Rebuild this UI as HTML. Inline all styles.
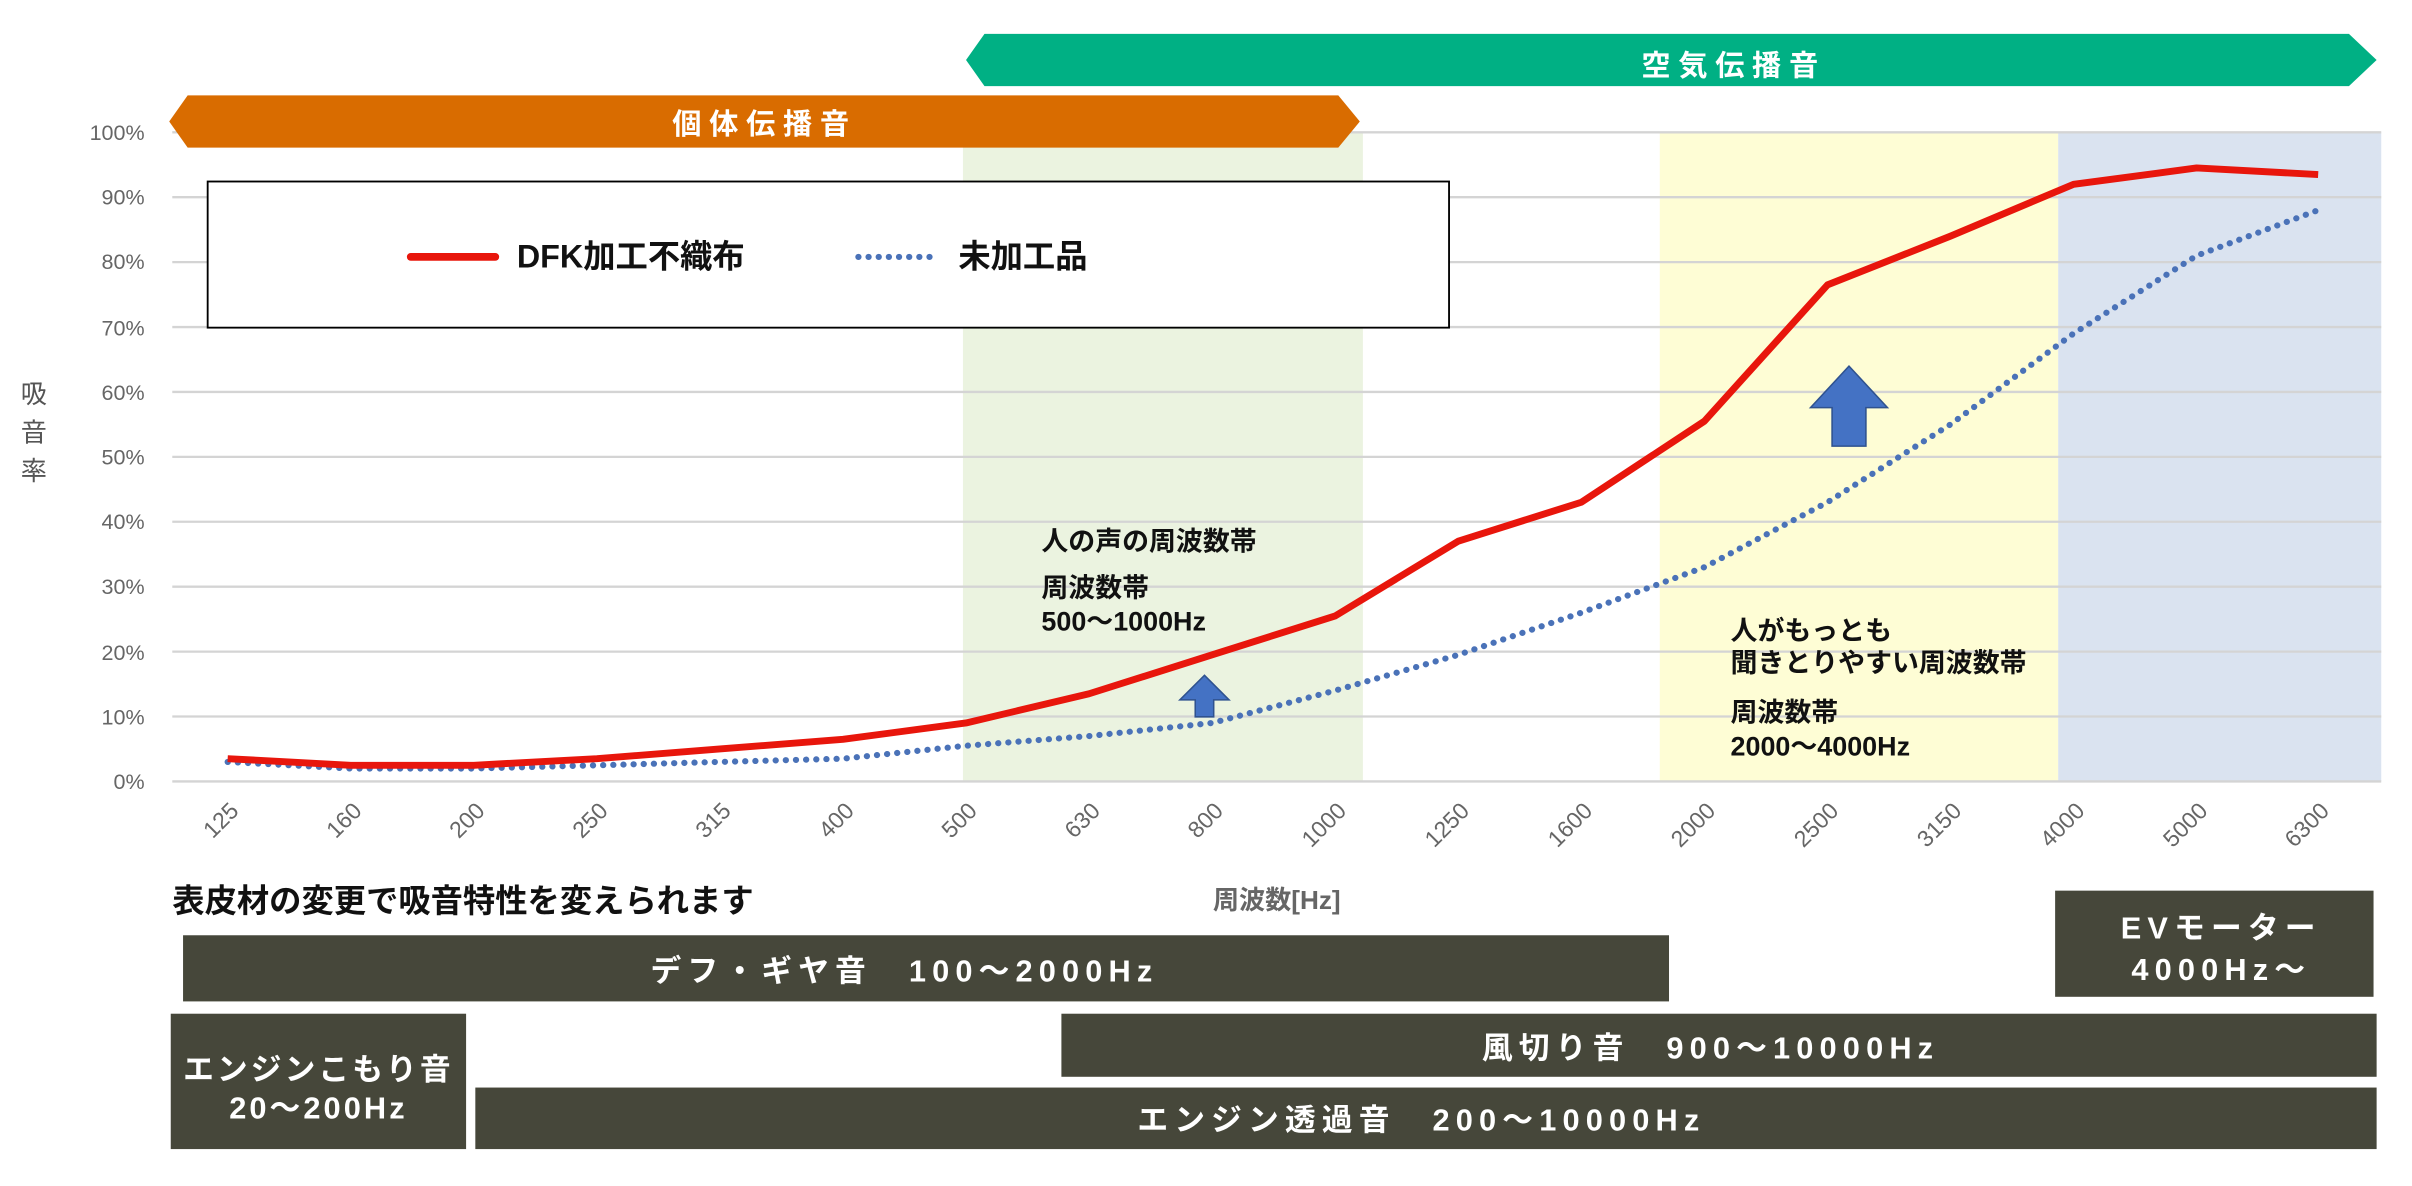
<!DOCTYPE html>
<html><head><meta charset="utf-8"><style>
html,body{margin:0;padding:0;background:#fff;}
svg{display:block;}
text{font-family:"Liberation Sans","Noto Sans CJK JP",sans-serif;}
</style></head><body>
<svg width="2412" height="1186" viewBox="0 0 1568 771" preserveAspectRatio="none" xmlns="http://www.w3.org/2000/svg">
<rect x="626" y="86" width="260" height="422" fill="#ebf3e0"/>
<rect x="1079" y="86" width="259" height="422" fill="#fefdd5"/>
<rect x="1338" y="86" width="210" height="422" fill="#dae3f0"/>
<g stroke="#d4d4d4" stroke-width="1.5">
<line x1="112" x2="1548" y1="86" y2="86"/><line x1="112" x2="1548" y1="128.2" y2="128.2"/>
<line x1="112" x2="1548" y1="170.4" y2="170.4"/><line x1="112" x2="1548" y1="212.6" y2="212.6"/>
<line x1="112" x2="1548" y1="254.8" y2="254.8"/><line x1="112" x2="1548" y1="297" y2="297"/>
<line x1="112" x2="1548" y1="339.2" y2="339.2"/><line x1="112" x2="1548" y1="381.4" y2="381.4"/>
<line x1="112" x2="1548" y1="423.6" y2="423.6"/><line x1="112" x2="1548" y1="465.8" y2="465.8"/>
<line x1="112" x2="1548" y1="508" y2="508"/>
</g>
<g font-size="14" fill="#666" text-anchor="end">
<text x="94" y="91">100%</text><text x="94" y="133">90%</text><text x="94" y="175">80%</text>
<text x="94" y="218">70%</text><text x="94" y="260">60%</text><text x="94" y="302">50%</text>
<text x="94" y="344">40%</text><text x="94" y="386">30%</text><text x="94" y="429">20%</text>
<text x="94" y="471">10%</text><text x="94" y="513">0%</text>
</g>
<g font-size="17" fill="#555" text-anchor="middle"><text x="22" y="262">吸</text><text x="22" y="287">音</text><text x="22" y="312">率</text></g>
<polygon points="640,22 1527,22 1545,39 1527,56 640,56 628,39" fill="#00b084"/>
<text x="1127" y="49" font-size="19" font-weight="bold" fill="#fff" text-anchor="middle" letter-spacing="5">空気伝播音</text>
<polygon points="122,62 870,62 884,79 870,96 122,96 110,79" fill="#d96c00"/>
<text x="497" y="87" font-size="19" font-weight="bold" fill="#fff" text-anchor="middle" letter-spacing="5">個体伝播音</text>
<rect x="135" y="118" width="807" height="95" fill="#fff" stroke="#000" stroke-width="1.2"/>
<line x1="267" y1="167" x2="322" y2="167" stroke="#e8160c" stroke-width="5" stroke-linecap="round"/>
<text x="336" y="174" font-size="21" font-weight="bold" fill="#111">DFK加工不織布</text>
<line x1="558" y1="167" x2="610" y2="167" stroke="#4a72b8" stroke-width="4" stroke-linecap="round" stroke-dasharray="0.1 6.5"/>
<text x="623" y="174" font-size="21" font-weight="bold" fill="#111">未加工品</text>
<polyline fill="none" stroke="#4a72b8" stroke-width="4" stroke-linecap="round" stroke-dasharray="0.1 6.5"
points="148,495.3 228,499.6 308,499.6 388,497.5 468,495.3 548,493.2 628,484.8 708,478.5 788,470 868,448.9 948,425.7 1028,398.3 1108,368.7 1188,326.5 1268,275.9 1348,216.8 1428,166.2 1507,136.6"/>
<polyline fill="none" stroke="#e8160c" stroke-width="4.5" stroke-linejoin="round"
points="148,493.2 228,497.5 308,497.5 388,493.2 468,486.9 548,480.6 628,470 708,451 788,425.7 868,400.4 948,351.8 1028,326.5 1108,273.8 1188,185.2 1268,153.5 1348,119.8 1428,109.2 1507,113.5"/>
<polygon points="783,439 799,455 789,455 789,466 777,466 777,455 767,455" fill="#4472c4" stroke="#2f528f"/>
<polygon points="1202,238 1227,265 1213,265 1213,290 1191,290 1191,265 1177,265" fill="#4472c4" stroke="#2f528f"/>
<g font-size="17.5" font-weight="bold" fill="#111">
<text x="677" y="358">人の声の周波数帯</text>
<text x="677" y="388">周波数帯</text>
<text x="677" y="410">500〜1000Hz</text>
<text x="1125" y="416">人がもっとも</text>
<text x="1125" y="437">聞きとりやすい周波数帯</text>
<text x="1125" y="469">周波数帯</text>
<text x="1125" y="491">2000〜4000Hz</text>
</g>
<g font-size="15" fill="#666" text-anchor="end">
<text transform="translate(156,528) rotate(-45)">125</text>
<text transform="translate(236,528) rotate(-45)">160</text>
<text transform="translate(316,528) rotate(-45)">200</text>
<text transform="translate(396,528) rotate(-45)">250</text>
<text transform="translate(476,528) rotate(-45)">315</text>
<text transform="translate(556,528) rotate(-45)">400</text>
<text transform="translate(636,528) rotate(-45)">500</text>
<text transform="translate(716,528) rotate(-45)">630</text>
<text transform="translate(796,528) rotate(-45)">800</text>
<text transform="translate(876,528) rotate(-45)">1000</text>
<text transform="translate(956,528) rotate(-45)">1250</text>
<text transform="translate(1036,528) rotate(-45)">1600</text>
<text transform="translate(1116,528) rotate(-45)">2000</text>
<text transform="translate(1196,528) rotate(-45)">2500</text>
<text transform="translate(1276,528) rotate(-45)">3150</text>
<text transform="translate(1356,528) rotate(-45)">4000</text>
<text transform="translate(1436,528) rotate(-45)">5000</text>
<text transform="translate(1515,528) rotate(-45)">6300</text>
</g>
<text x="830" y="591" font-size="17" font-weight="bold" fill="#666" text-anchor="middle">周波数[Hz]</text>
<text x="112" y="593" font-size="21" font-weight="bold" fill="#111">表皮材の変更で吸音特性を変えられます</text>
<g fill="#46473a">
<rect x="119" y="608" width="966" height="43"/>
<rect x="1336" y="579" width="207" height="69"/>
<rect x="111" y="659" width="192" height="88"/>
<rect x="690" y="659" width="855" height="41"/>
<rect x="309" y="707" width="1236" height="40"/>
</g>
<g font-size="20" font-weight="bold" fill="#fff" text-anchor="middle" letter-spacing="4">
<text x="588" y="638">デフ・ギヤ音　100〜2000Hz</text>
<text x="1444" y="610">EVモーター</text>
<text x="1444" y="637">4000Hz〜</text>
<text x="207" y="702" letter-spacing="2">エンジンこもり音</text>
<text x="207" y="727" letter-spacing="2">20〜200Hz</text>
<text x="1112" y="688">風切り音　900〜10000Hz</text>
<text x="924" y="735">エンジン透過音　200〜10000Hz</text>
</g>
</svg>
</body></html>
